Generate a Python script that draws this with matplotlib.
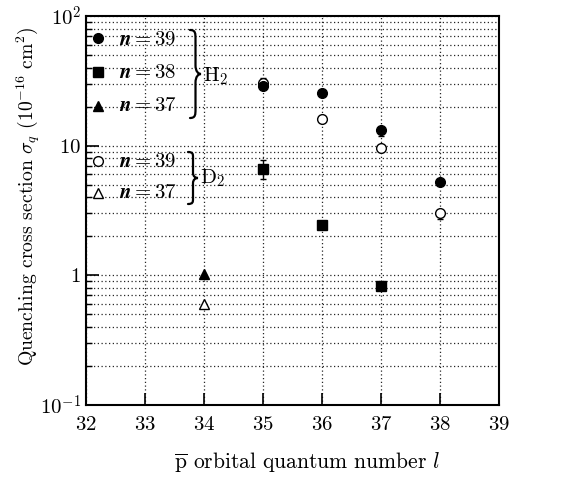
import matplotlib
matplotlib.use("Agg")
import matplotlib.pyplot as plt
from matplotlib.path import Path
from matplotlib.patches import PathPatch
from matplotlib.ticker import FixedLocator, FixedFormatter, NullFormatter

plt.rcParams['font.family'] = ['cmr10', 'DejaVu Serif']
plt.rcParams['mathtext.fontset'] = 'cm'
plt.rcParams['axes.formatter.use_mathtext'] = True

# ---- data ----
l_h2_39 = [35, 36, 37, 38]
s_h2_39 = [29.0, 25.5, 13.2, 5.2]
e_h2_39_lo = [0.0, 0.0, 1.3, 0.0]
e_h2_39_hi = [0.0, 0.0, 0.5, 0.0]

l_h2_38 = [35, 36, 37]
s_h2_38 = [6.6, 2.45, 0.83]
e_h2_38_lo = [1.1, 0.0, 0.0]
e_h2_38_hi = [1.2, 0.0, 0.0]

l_h2_37 = [34]
s_h2_37 = [1.03]

l_d2_39 = [35, 36, 37, 38]
s_d2_39 = [30.4, 16.0, 9.6, 3.0]
e_d2_39_lo = [0.0, 0.0, 0.0, 0.3]
e_d2_39_hi = [2.8, 0.0, 0.0, 0.0]

l_d2_37 = [34]
s_d2_37 = [0.6]

xticks = [32, 33, 34, 35, 36, 37, 38, 39]
yticks = [0.1, 1, 10, 100]
ytick_labels = [r'$10^{-1}$', r'$1$', r'$10$', r'$10^{2}$']

fig = plt.figure(figsize=(5.61, 4.86), dpi=100)
ax = fig.add_axes([86/561, 1-405/486, 413/561, 389/486])
ax.set_yscale('log')
ax.set_xlim(32, 39)
ax.set_ylim(0.1, 100)

ms = 7
ax.errorbar(l_h2_39, s_h2_39, yerr=[e_h2_39_lo, e_h2_39_hi], fmt='o', color='black',
            ms=ms, capsize=2, elinewidth=1, zorder=5)
ax.errorbar(l_h2_38, s_h2_38, yerr=[e_h2_38_lo, e_h2_38_hi], fmt='s', color='black',
            ms=ms, capsize=2, elinewidth=1, zorder=5)
ax.plot(l_h2_37, s_h2_37, '^', color='black', ms=ms-0.5, zorder=5)
ax.errorbar(l_d2_39, s_d2_39, yerr=[e_d2_39_lo, e_d2_39_hi], fmt='o', mfc='white', mec='black',
            color='black', ms=ms, mew=1, capsize=2, elinewidth=1, zorder=4)
ax.plot(l_d2_37, s_d2_37, '^', mfc='white', mec='black', ms=ms-0.5, mew=1, zorder=4)

# ticks & grid
ax.xaxis.set_major_locator(FixedLocator(xticks))
ax.set_xticklabels([r'$%d$' % v for v in xticks])
ax.yaxis.set_major_locator(FixedLocator(yticks))
ax.yaxis.set_major_formatter(FixedFormatter(ytick_labels))
ax.yaxis.set_minor_formatter(NullFormatter())
ax.tick_params(which='both', direction='in', top=False, right=False, labelsize=15)
ax.tick_params(which='major', length=9, width=1.2)
ax.tick_params(which='minor', length=4.5, width=1.0)
ax.tick_params(axis='x', pad=8)
ax.grid(True, which='major', axis='x', linestyle=(0, (1, 2)), color='0.15', linewidth=0.9)
ax.grid(True, which='both', axis='y', linestyle=(0, (1, 2)), color='0.15', linewidth=0.9)
for sp in ax.spines.values():
    sp.set_linewidth(1.5)

fig.text(307/561, 1-463/486, r'$\overline{\mathrm{p}}$ orbital quantum number $l$',
         fontsize=15.5, ha='center', va='center')
fig.text(28/561, 1-196/486, r'Quenching cross section $\sigma_q$ $(10^{-16}\ \mathrm{cm}^2)$',
         fontsize=14.2, ha='center', va='center', rotation=90)

# ---- custom legend ----
def fx(px):
    return (px - 86) / 413.0

def fy(py):
    return (405 - py) / 389.0

legend_items = [
    ('o', 'black', r'$\boldsymbol{n=39}$', 38, 40),
    ('s', 'black', r'$\boldsymbol{n=38}$', 72, 73),
    ('^', 'black', r'$\boldsymbol{n=37}$', 106, 106),
    ('o', 'white', r'$\boldsymbol{n=39}$', 161, 162),
    ('^', 'white', r'$\boldsymbol{n=37}$', 193, 193),
]
for mk, fc, label, my, ty in legend_items:
    ax.plot([fx(98)], [fy(my)], mk, mfc=fc, mec='black', mew=1, ms=ms if mk != '^' else ms-0.5,
            transform=ax.transAxes, clip_on=False, zorder=6)
    ax.text(fx(119), fy(ty), label, transform=ax.transAxes, fontsize=15,
            va='center', ha='left', zorder=6)

def brace(x0, x1, ytop, ybot):
    w = x1 - x0
    def P(u, v):
        return (fx(x0 + u * w), fy(ytop) - (1 - v) * (fy(ytop) - fy(ybot)))
    verts = [P(0, 1),
             P(0.5, 1), P(0.5, 0.96), P(0.5, 0.9),
             P(0.5, 0.6),
             P(0.5, 0.53), P(0.75, 0.5), P(1, 0.5),
             P(0.75, 0.5), P(0.5, 0.47), P(0.5, 0.4),
             P(0.5, 0.1),
             P(0.5, 0.04), P(0.5, 0), P(0, 0)]
    codes = [Path.MOVETO,
             Path.CURVE4, Path.CURVE4, Path.CURVE4,
             Path.LINETO,
             Path.CURVE4, Path.CURVE4, Path.CURVE4,
             Path.CURVE4, Path.CURVE4, Path.CURVE4,
             Path.LINETO,
             Path.CURVE4, Path.CURVE4, Path.CURVE4]
    patch = PathPatch(Path(verts, codes), transform=ax.transAxes, fill=False,
                      lw=1.6, edgecolor='black', clip_on=False, zorder=6, capstyle='round')
    ax.add_patch(patch)

brace(190, 201, 30, 118)
brace(188, 198, 152, 204)
ax.text(fx(203), fy(76), r'$\mathrm{H}_2$', transform=ax.transAxes, fontsize=15,
        va='center', ha='left', zorder=6)
ax.text(fx(200), fy(178), r'$\mathrm{D}_2$', transform=ax.transAxes, fontsize=15,
        va='center', ha='left', zorder=6)

fig.savefig('out.png', dpi=100)
